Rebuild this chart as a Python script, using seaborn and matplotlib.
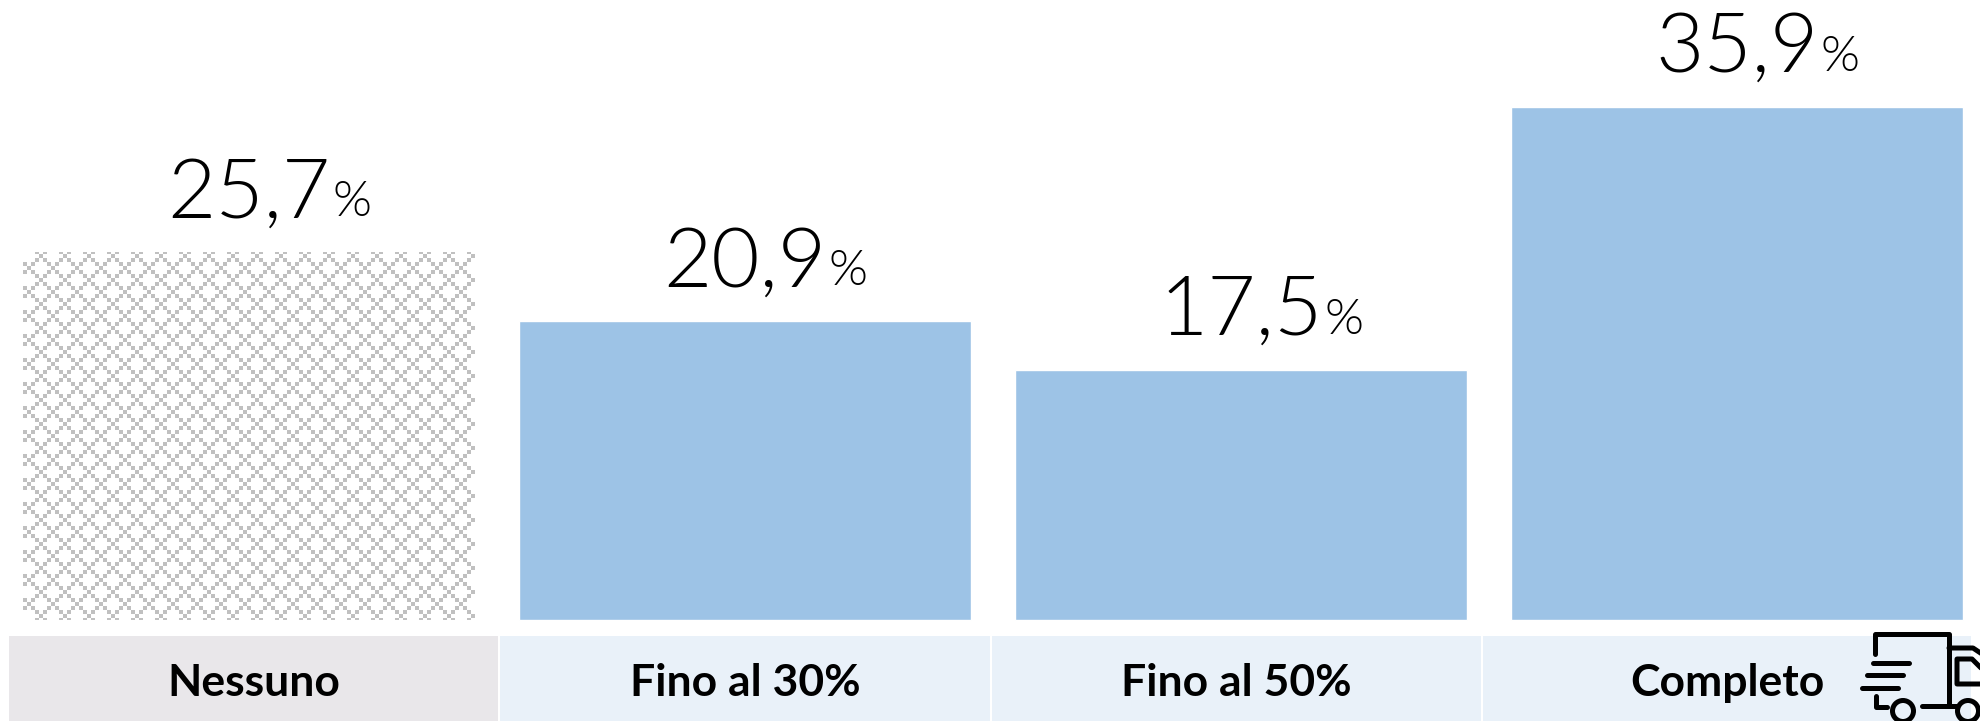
import numpy as np
import pandas as pd
import seaborn as sns
import matplotlib.pyplot as plt
from matplotlib import font_manager as fm
from matplotlib.patches import Rectangle, Circle

# Dati
categorie = ["Nessuno", "Fino al 30%", "Fino al 50%", "Completo"]
valori = [25.7, 20.9, 17.5, 35.9]
colori_barre = ["#FFFFFF", "#9DC3E6", "#9DC3E6", "#9DC3E6"]
colori_celle = ["#E9E7EA", "#E9F1F9", "#E9F1F9", "#E9F1F9"]
celle_x = [(9, 498), (500, 990), (992, 1481), (1483, 1971)]

W, H = 1980, 721
sns.set_theme(style="white")
plt.rcParams["font.family"] = ["Lato", "DejaVu Sans"]

# Cerco il file Lato Light (weight="light" prende Hairline)
file_light = [f.fname for f in fm.fontManager.ttflist
              if f.name.startswith("Lato") and f.fname.endswith("Lato-Light.ttf")]
if file_light:
    font_sottile = fm.FontProperties(fname=file_light[0])
else:
    font_sottile = fm.FontProperties(family="Roboto", weight="light")

df = pd.DataFrame({"categoria": categorie, "valore": valori})

fig = plt.figure(figsize=(W / 100, H / 100), dpi=100)
ax = fig.add_axes([0, 0, 1, 1])
sns.barplot(data=df, x="categoria", y="valore", hue="categoria", palette=colori_barre,
            legend=False, width=0.911, saturation=1, ax=ax)
ax.set_xlim(-249 / 496.1, (W - 249) / 496.1)
ax.set_ylim(-(H - 620) / 14.3, 620 / 14.3)
ax.axis("off")

# Trama a scacchi della prima barra
barra = ax.patches[0]
yy, xx = np.mgrid[0:H, 0:W]
c = (xx - 23) // 4
r = (yy - 254) // 4
grigio = (c + r) % 2 == 0
for cx, cy in [(1, 0), (4, 3)]:
    for dx, dy in [(1, 0), (-1, 0), (0, 1), (0, -1)]:
        grigio[((c - cx - dx) % 6 == 0) & ((r - cy - dy) % 6 == 0)] = False
trama = np.where(grigio, 0.75, 1.0)
img = ax.imshow(trama, cmap="gray", vmin=0, vmax=1, aspect="auto", zorder=3,
                extent=(ax.get_xlim()[0], ax.get_xlim()[1], ax.get_ylim()[0], ax.get_ylim()[1]),
                interpolation="nearest")
img.set_clip_path(barra)

# Etichette dei valori
for i, v in enumerate(valori):
    t = ax.annotate(f"{v:.1f}".replace(".", ","), (i, v), xytext=(0, 25), textcoords="offset points",
                    ha="center", va="baseline", fontproperties=font_sottile, fontsize=60, color="black")
    fig.canvas.draw()
    meta = t.get_window_extent().width / 2 * 0.72
    ax.annotate("%", (i, v), xytext=(meta + 1, 26), textcoords="offset points", ha="left",
                va="baseline", fontproperties=font_sottile, fontsize=36, color="black")

# Celle sotto le barre
for nome, (x0, x1), col in zip(categorie, celle_x, colori_celle):
    fig.add_artist(Rectangle((x0 / W, 0), (x1 - x0) / W, (H - 636) / H, color=col, lw=0,
                             transform=fig.transFigure, zorder=1))
    fig.text((x0 + x1) / 2 / W, (H - 696) / H, nome, ha="center", va="baseline", fontsize=32,
             fontweight="bold", color="black", zorder=5)


# Icona del camion
def linea(xs, ys):
    fig.add_artist(plt.Line2D(np.array(xs) / W, 1 - np.array(ys) / H, color="black", lw=3.6,
                              solid_capstyle="round", solid_joinstyle="round",
                              transform=fig.transFigure, zorder=6))


linea([1875, 1875, 1949, 1949], [654, 633.5, 633.5, 706])
linea([1873, 1909], [663, 663])
linea([1867, 1903], [675, 675])
linea([1862, 1898], [688, 688])
linea([1876, 1876, 1887], [696, 707, 707])
linea([1922, 1957], [706, 706])
linea([1949, 1973, 1982], [648, 648, 654])
linea([1982, 1972, 1957, 1957, 1982], [669, 659, 659, 684, 684])
for cx in (1903, 1968):
    fig.add_artist(Circle((cx, H - 711), 10.5, fc="none", ec="black", lw=3.6,
                          transform=None, zorder=6))

fig.savefig("out.png", dpi=100)
